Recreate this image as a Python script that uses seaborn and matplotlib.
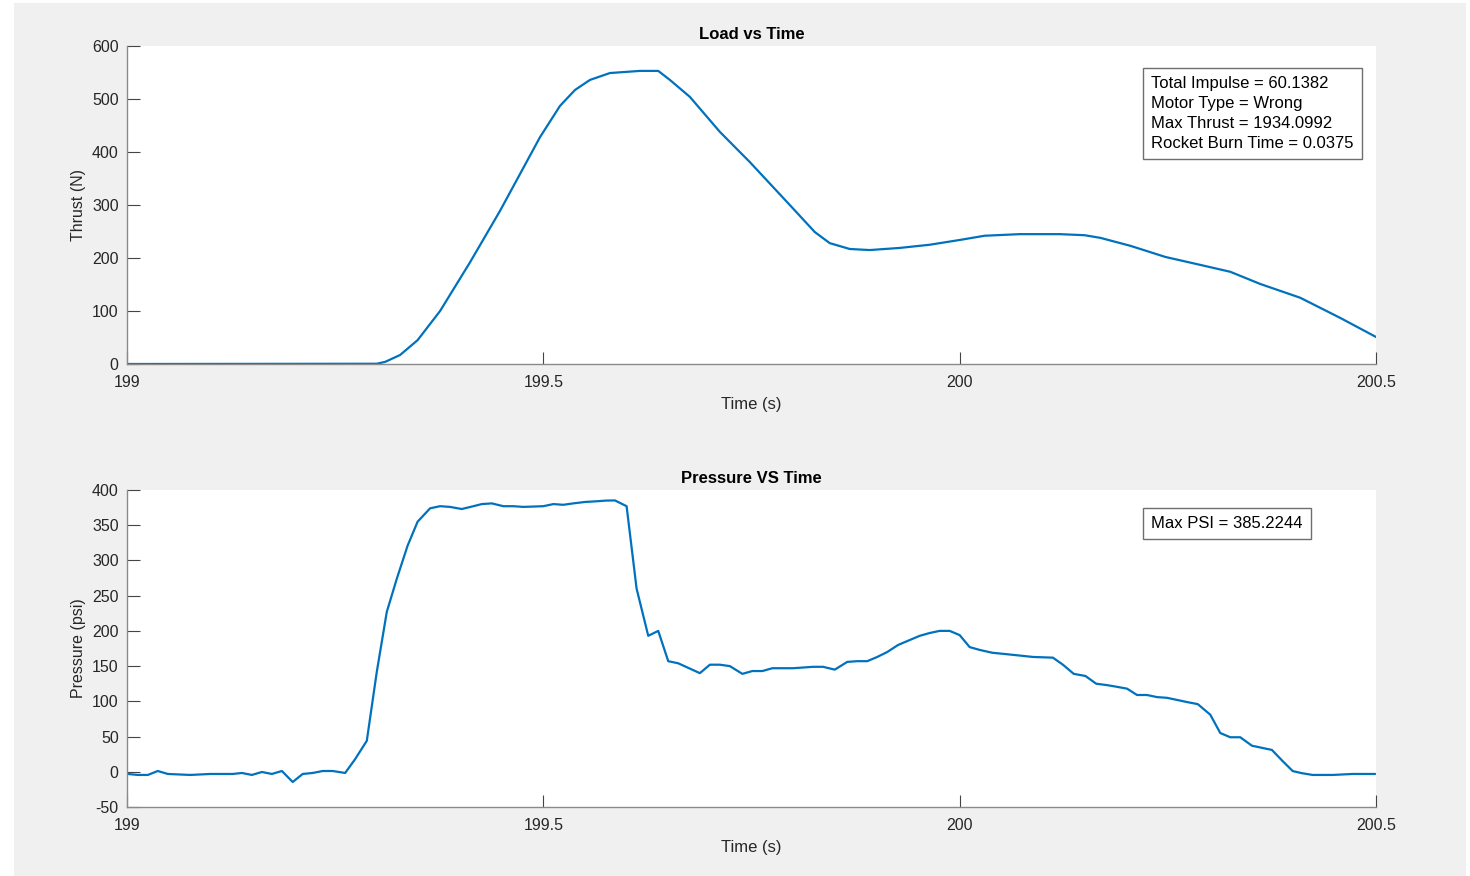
import numpy as np
import pandas as pd
import matplotlib
matplotlib.use("Agg")
import matplotlib.pyplot as plt
from matplotlib.patches import Rectangle
import seaborn as sns

# ---------------- data ----------------
thrust_time = [199.000, 199.300, 199.310, 199.328, 199.349, 199.376, 199.412, 199.448,
               199.496, 199.520, 199.538, 199.556, 199.580, 199.616, 199.638, 199.652,
               199.676, 199.712, 199.748, 199.796, 199.826, 199.844, 199.868, 199.892,
               199.928, 199.964, 200.000, 200.030, 200.072, 200.120, 200.150, 200.169,
               200.205, 200.247, 200.289, 200.325, 200.361, 200.409, 200.457, 200.500]
thrust_vals = [0, 0.5, 4, 17, 45, 100, 192, 289,
               428, 487, 517, 536, 549, 553, 553, 536,
               504, 438, 381, 300, 249, 228, 217, 215,
               219, 225, 234, 242, 245, 245, 243, 238,
               223, 202, 187, 174, 151, 125, 87, 51]

pressure_time = [199.001, 199.013, 199.025, 199.037, 199.049, 199.076, 199.100, 199.127,
                 199.138, 199.150, 199.162, 199.174, 199.186, 199.199, 199.211, 199.223,
                 199.235, 199.247, 199.262, 199.274, 199.288, 199.300, 199.312, 199.324,
                 199.337, 199.349, 199.364, 199.376, 199.388, 199.402, 199.416, 199.426,
                 199.438, 199.452, 199.464, 199.476, 199.500, 199.512, 199.524, 199.536,
                 199.550, 199.564, 199.576, 199.586, 199.600, 199.612, 199.626, 199.638,
                 199.650, 199.662, 199.688, 199.700, 199.712, 199.724, 199.739, 199.751,
                 199.763, 199.775, 199.800, 199.824, 199.836, 199.850, 199.865, 199.877,
                 199.889, 199.901, 199.913, 199.926, 199.938, 199.952, 199.964, 199.976,
                 199.988, 200.000, 200.012, 200.024, 200.039, 200.064, 200.088, 200.112,
                 200.124, 200.137, 200.151, 200.164, 200.177, 200.187, 200.201, 200.213,
                 200.225, 200.237, 200.249, 200.261, 200.273, 200.286, 200.301, 200.313,
                 200.325, 200.337, 200.351, 200.363, 200.375, 200.388, 200.400, 200.411,
                 200.424, 200.448, 200.472, 200.499]
pressure_vals = [-3.1, -4.5, -4.5, 1.1, -3.1, -4.5, -3.1, -3.1,
                 -1.7, -4.5, -0.3, -3.1, 1.1, -14.5, -3.1, -1.7,
                 1.1, 1.1, -1.7, 18, 44, 142, 227, 274,
                 321, 355, 374, 377, 376, 373, 377, 380,
                 381, 377, 377, 376, 377, 380, 379, 381,
                 383, 384, 385, 385.2, 377, 260, 193, 200,
                 157, 154, 140, 152, 152, 150, 139, 143,
                 143, 147, 147, 149, 149, 145, 156, 157,
                 157, 163, 170, 180, 186, 193, 197, 200,
                 200, 194, 177, 173, 169, 166, 163, 162,
                 152, 139, 136, 125, 123, 121, 118, 109,
                 109, 106, 105, 102, 99, 96, 81, 55,
                 49, 49, 37, 34, 31, 15, 1, -2,
                 -4.5, -4.5, -3.1, -3.1]

x_ticks = [199, 199.5, 200, 200.5]
x_ticklabels = ["199", "199.5", "200", "200.5"]
thrust_yticks = [0, 100, 200, 300, 400, 500, 600]
pressure_yticks = [-50, 0, 50, 100, 150, 200, 250, 300, 350, 400]

top_title = "Load vs Time"
bottom_title = "Pressure VS Time"
top_ylabel = "Thrust (N)"
bottom_ylabel = "Pressure (psi)"
xlabel = "Time (s)"
top_box = "Total Impulse = 60.1382\nMotor Type = Wrong\nMax Thrust = 1934.0992\nRocket Burn Time = 0.0375"
bottom_box = "Max PSI = 385.2244"

# ---------------- style ----------------
sns.set_theme(style="ticks")
plt.rcParams['font.family'] = ['Liberation Sans', 'DejaVu Sans']
plt.rcParams['axes.unicode_minus'] = False

W, H = 1470, 876
fig = plt.figure(figsize=(W / 100, H / 100), dpi=100, facecolor="white")

# MATLAB-like gray figure background
fig.patches.append(Rectangle((14 / W, 0), (1466 - 14) / W, 1 - 3 / H,
                             transform=fig.transFigure, facecolor="#f0f0f0",
                             edgecolor="none", zorder=-10))

line_color = "#0072BD"
spine_color = "#8a8a8a"
text_color = "#262626"

def make_axes(top_px, bot_px):
    left = 127 / W
    width = (1376 - 127) / W
    bottom = 1 - bot_px / H
    height = (bot_px - top_px) / H
    return fig.add_axes([left, bottom, width, height])

ax1 = make_axes(46, 364)
ax2 = make_axes(490, 807)

df_t = pd.DataFrame({"Time": thrust_time, "Thrust": thrust_vals})
df_p = pd.DataFrame({"Time": pressure_time, "Pressure": pressure_vals})

sns.lineplot(data=df_t, x="Time", y="Thrust", ax=ax1, color=line_color, linewidth=1.6)
sns.lineplot(data=df_p, x="Time", y="Pressure", ax=ax2, color=line_color, linewidth=1.6)

for ax, yt, ylim, title, ylab in [
    (ax1, thrust_yticks, (0, 600), top_title, top_ylabel),
    (ax2, pressure_yticks, (-50, 400), bottom_title, bottom_ylabel),
]:
    ax.set_facecolor("white")
    ax.set_xlim(199, 200.5)
    ax.set_ylim(*ylim)
    ax.set_xticks(x_ticks)
    ax.set_xticklabels(x_ticklabels)
    ax.set_yticks(yt)
    ax.tick_params(direction="in", length=9, width=0.8, color="#444444",
                   labelsize=11.5, labelcolor=text_color, pad=6)
    ax.tick_params(axis="x", pad=8)
    for s in ["top", "right"]:
        ax.spines[s].set_visible(False)
    for s in ["left", "bottom"]:
        ax.spines[s].set_color(spine_color)
        ax.spines[s].set_linewidth(1.0)
    ax.set_title(title, fontsize=12, fontweight="bold", color="black", pad=5)
    ax.set_xlabel(xlabel, fontsize=12, color=text_color, labelpad=5)
    ax.set_ylabel(ylab, fontsize=11.5, color=text_color, labelpad=4)

# annotation boxes
box_props = dict(boxstyle="square,pad=0.5", facecolor="white", edgecolor="#6e6e6e", linewidth=1.0)
ax1.text((1151 - 127) / (1376 - 127), 1 - (76 - 46) / (364 - 46), top_box,
         transform=ax1.transAxes, ha="left", va="top", fontsize=12,
         color="black", linespacing=1.42, bbox=box_props)
ax2.text((1151 - 127) / (1376 - 127), 1 - (516 - 490) / (807 - 490), bottom_box,
         transform=ax2.transAxes, ha="left", va="top", fontsize=12,
         color="black", bbox=box_props)

fig.savefig("out.png", dpi=100, facecolor=fig.get_facecolor())
